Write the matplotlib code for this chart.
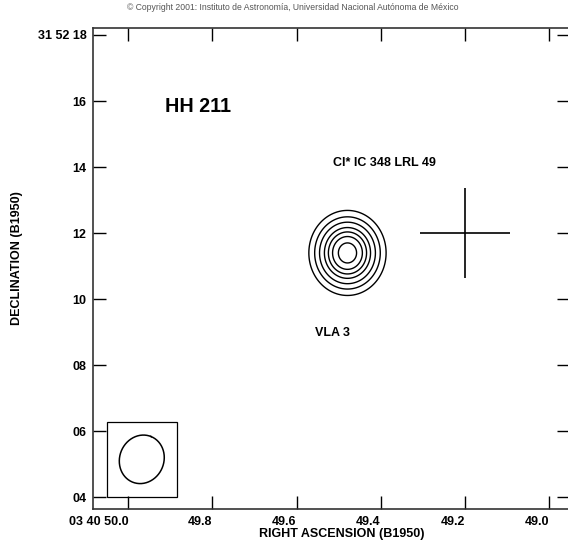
import numpy as np
import matplotlib
matplotlib.use("Agg")
import matplotlib.pyplot as plt
from matplotlib.patches import Rectangle

plt.rcParams['font.family'] = ['Liberation Sans', 'DejaVu Sans']

# ---------- Values ----------
# RA in seconds of time (03h40m..), Dec in arcsec (+31d52'..)
RA_TICKS = [50.0, 49.8, 49.6, 49.4, 49.2, 49.0]
RA_LABELS = ['03 40 50.0', '49.8', '49.6', '49.4', '49.2', '49.0']
DEC_TICKS = [18, 16, 14, 12, 10, 8, 6, 4]
DEC_LABELS = ['31 52 18', '16', '14', '12', '10', '08', '06', '04']
RA_LIM = (50.0847, 48.950)
DEC_LIM = (3.637, 18.203)

# VLA 3 source model: centre, widths (arcsec), contour levels (fraction of peak)
SRC_RA, SRC_DEC = 49.479, 11.40
SRC_SIG_X, SRC_SIG_Y = 0.545, 0.60
LEVELS = [0.10, 0.19, 0.30, 0.44, 0.57, 0.71, 0.88]

# optical star position (cross) and its arm half-lengths
CROSS_RA, CROSS_DEC = 49.199, 12.01
CROSS_DRA, CROSS_DDEC = 0.107, 1.36

# synthesized beam: half axes (arcsec), tilt (deg), centre; and its box
BEAM_A, BEAM_B, BEAM_TILT = 0.745, 0.67, 22.0
BEAM_RA, BEAM_DEC = 49.968, 5.15
BOX_RA = (50.051, 49.885)
BOX_DEC = (4.0, 6.29)

ARCSEC_PER_SEC = 15 * np.cos(np.radians(31.87))
FS = 9.0

# ---------- Figure ----------
fig = plt.figure(figsize=(5.68, 5.44), dpi=100)
ax = fig.add_axes([0.1632, 0.0638, 0.8403, 0.8842])
ax.set_xlim(*RA_LIM)
ax.set_ylim(*DEC_LIM)

# contours
ra_g = np.linspace(49.3, 49.7, 300)
dec_g = np.linspace(9.0, 14.0, 300)
RA, DEC = np.meshgrid(ra_g, dec_g)
dx = (RA - SRC_RA) * ARCSEC_PER_SEC
dy = DEC - SRC_DEC
Z = np.exp(-0.5 * ((dx / SRC_SIG_X) ** 2 + (dy / SRC_SIG_Y) ** 2))
ax.contour(RA, DEC, Z, levels=LEVELS, colors='k', linewidths=1.0)

# cross
ax.errorbar(CROSS_RA, CROSS_DEC, xerr=CROSS_DRA, yerr=CROSS_DDEC,
            fmt='none', ecolor='k', elinewidth=1.2, capsize=0)

# beam box + ellipse
ax.add_patch(Rectangle((BOX_RA[1], BOX_DEC[0]), BOX_RA[0] - BOX_RA[1],
                       BOX_DEC[1] - BOX_DEC[0], fill=False, ec='k', lw=0.9))
t = np.linspace(0, 2 * np.pi, 300)
th = np.radians(BEAM_TILT)
u = BEAM_A * np.cos(t) * np.sin(th) + BEAM_B * np.sin(t) * np.cos(th)
v = BEAM_A * np.cos(t) * np.cos(th) - BEAM_B * np.sin(t) * np.sin(th)
ax.plot(BEAM_RA - u / ARCSEC_PER_SEC, BEAM_DEC + v, color='k', lw=1.1)

# labels on the map
ax.text(49.913, 15.84, 'HH 211', fontsize=14.2, fontweight='bold',
        ha='left', va='center')
ax.text(49.513, 14.12, 'Cl* IC 348 LRL 49', fontsize=FS, fontweight='bold',
        ha='left', va='center')
ax.text(49.556, 8.99, 'VLA 3', fontsize=FS, fontweight='bold',
        ha='left', va='center')

# axes styling
ax.set_xticks(RA_TICKS)
ax.set_xticklabels(RA_LABELS, fontsize=FS, fontweight='bold', ha='right')
ax.set_yticks(DEC_TICKS)
ax.set_yticklabels(DEC_LABELS, fontsize=FS, fontweight='bold')
ax.tick_params(direction='in', length=9.5, width=1.0, top=True, right=True)
ax.tick_params(axis='x', pad=5)
ax.tick_params(axis='y', pad=4.5)
for sp in ax.spines.values():
    sp.set_linewidth(1.2)
    sp.set_color('#333333')

ax.set_xlabel('RIGHT ASCENSION (B1950)', fontsize=FS, fontweight='bold', va='center')
ax.set_ylabel('DECLINATION (B1950)', fontsize=FS, fontweight='bold', va='center')
ax.xaxis.set_label_coords(0.5217, -0.0524)
ax.yaxis.set_label_coords(-0.1576, 0.523)

fig.text(293 / 568, 1 - 8 / 544,
         '\u00a9 Copyright 2001: Instituto de Astronom\u00eda, Universidad Nacional Aut\u00f3noma de M\u00e9xico',
         fontsize=6.2, color='#555555', ha='center', va='center')

fig.savefig('out.png', dpi=100)
